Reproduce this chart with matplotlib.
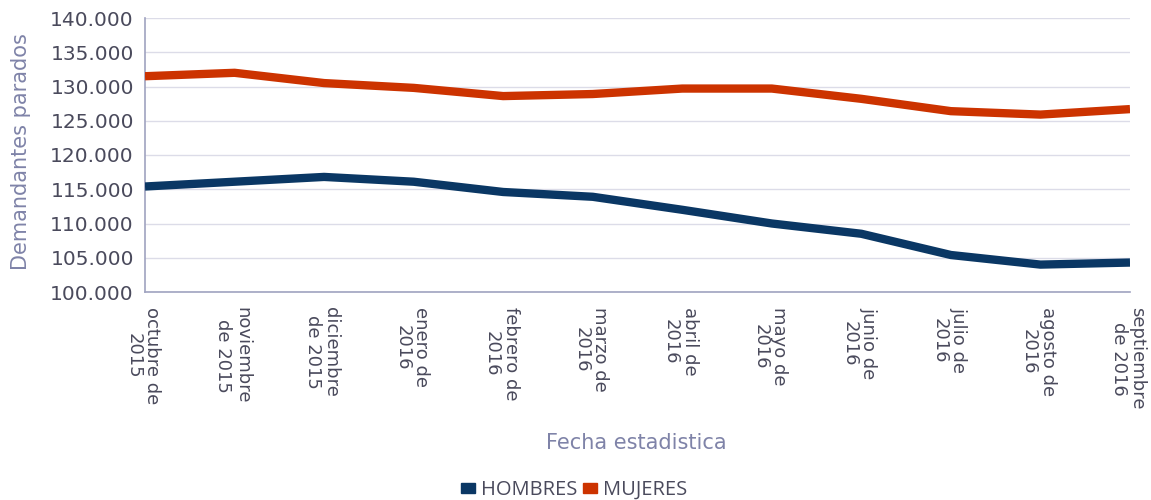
import matplotlib.pyplot as plt
from matplotlib.ticker import FuncFormatter
from matplotlib.patches import Patch
from matplotlib.transforms import ScaledTranslation

meses = ["octubre de\n2015", "noviembre\nde 2015", "diciembre\nde 2015", "enero de\n2016",
         "febrero de\n2016", "marzo de\n2016", "abril de\n2016", "mayo de\n2016",
         "junio de\n2016", "julio de\n2016", "agosto de\n2016", "septiembre\nde 2016"]
hombres = [115400, 116100, 116800, 116100, 114600, 113900, 112000, 110000, 108500, 105400, 104000, 104300]
mujeres = [131500, 132000, 130500, 129800, 128600, 128900, 129700, 129700, 128200, 126400, 125900, 126700]

c_h = "#0a3764"
c_m = "#cc3300"
txt = "#4a4a5c"
lav = "#7f83a8"

fig = plt.figure(figsize=(11.51, 5.0), dpi=100)
ax = fig.add_axes([145 / 1151, 1 - 292 / 500, 985 / 1151, 274 / 500])

x = list(range(len(meses)))
ax.plot(x, hombres, color=c_h, lw=6, solid_joinstyle="round", solid_capstyle="butt", zorder=3)
ax.plot(x, mujeres, color=c_m, lw=6, solid_joinstyle="round", solid_capstyle="butt", zorder=3)

ax.set_xlim(0, len(meses) - 1)
ax.set_ylim(100000, 140000)
ax.set_yticks(range(100000, 140001, 5000))
ax.yaxis.set_major_formatter(FuncFormatter(lambda v, p: f"{int(v):,}".replace(",", ".")))
ax.grid(axis="y", color="#dcdce8", lw=1)
ax.set_axisbelow(True)

for s in ["top", "right"]:
    ax.spines[s].set_visible(False)
for s in ["left", "bottom"]:
    ax.spines[s].set_color("#a0a3c0")
    ax.spines[s].set_linewidth(1.2)

ax.tick_params(axis="y", length=0, pad=8, labelsize=14.5, labelcolor=txt)
ax.tick_params(axis="x", length=0, pad=11)
ax.set_xticks(x)
ax.set_xticklabels(meses, rotation=-90, ha="center", va="top", fontsize=13,
                   color=txt, linespacing=1.05)
shift = ScaledTranslation(-2 / 100, 0, fig.dpi_scale_trans)
for lbl in ax.get_xticklabels():
    lbl.set_transform(lbl.get_transform() + shift)

ax.set_ylabel("Demandantes parados", fontsize=15, color=lav)
ax.yaxis.set_label_coords(-0.116, 0.513)
fig.text(636 / 1151, 1 - 443 / 500, "Fecha estadistica", ha="center", va="center",
         fontsize=15, color=lav)

handles = [Patch(color=c_h, label="HOMBRES"), Patch(color=c_m, label="MUJERES")]
fig.legend(handles=handles, loc="center", bbox_to_anchor=(574 / 1151, 1 - 490 / 500), ncol=2,
           frameon=False, prop={"family": "Open Sans", "size": 14.5}, labelcolor=txt,
           handlelength=0.7, handleheight=0.4, handletextpad=0.3, columnspacing=0.25)

fig.savefig("out.png", dpi=100)
